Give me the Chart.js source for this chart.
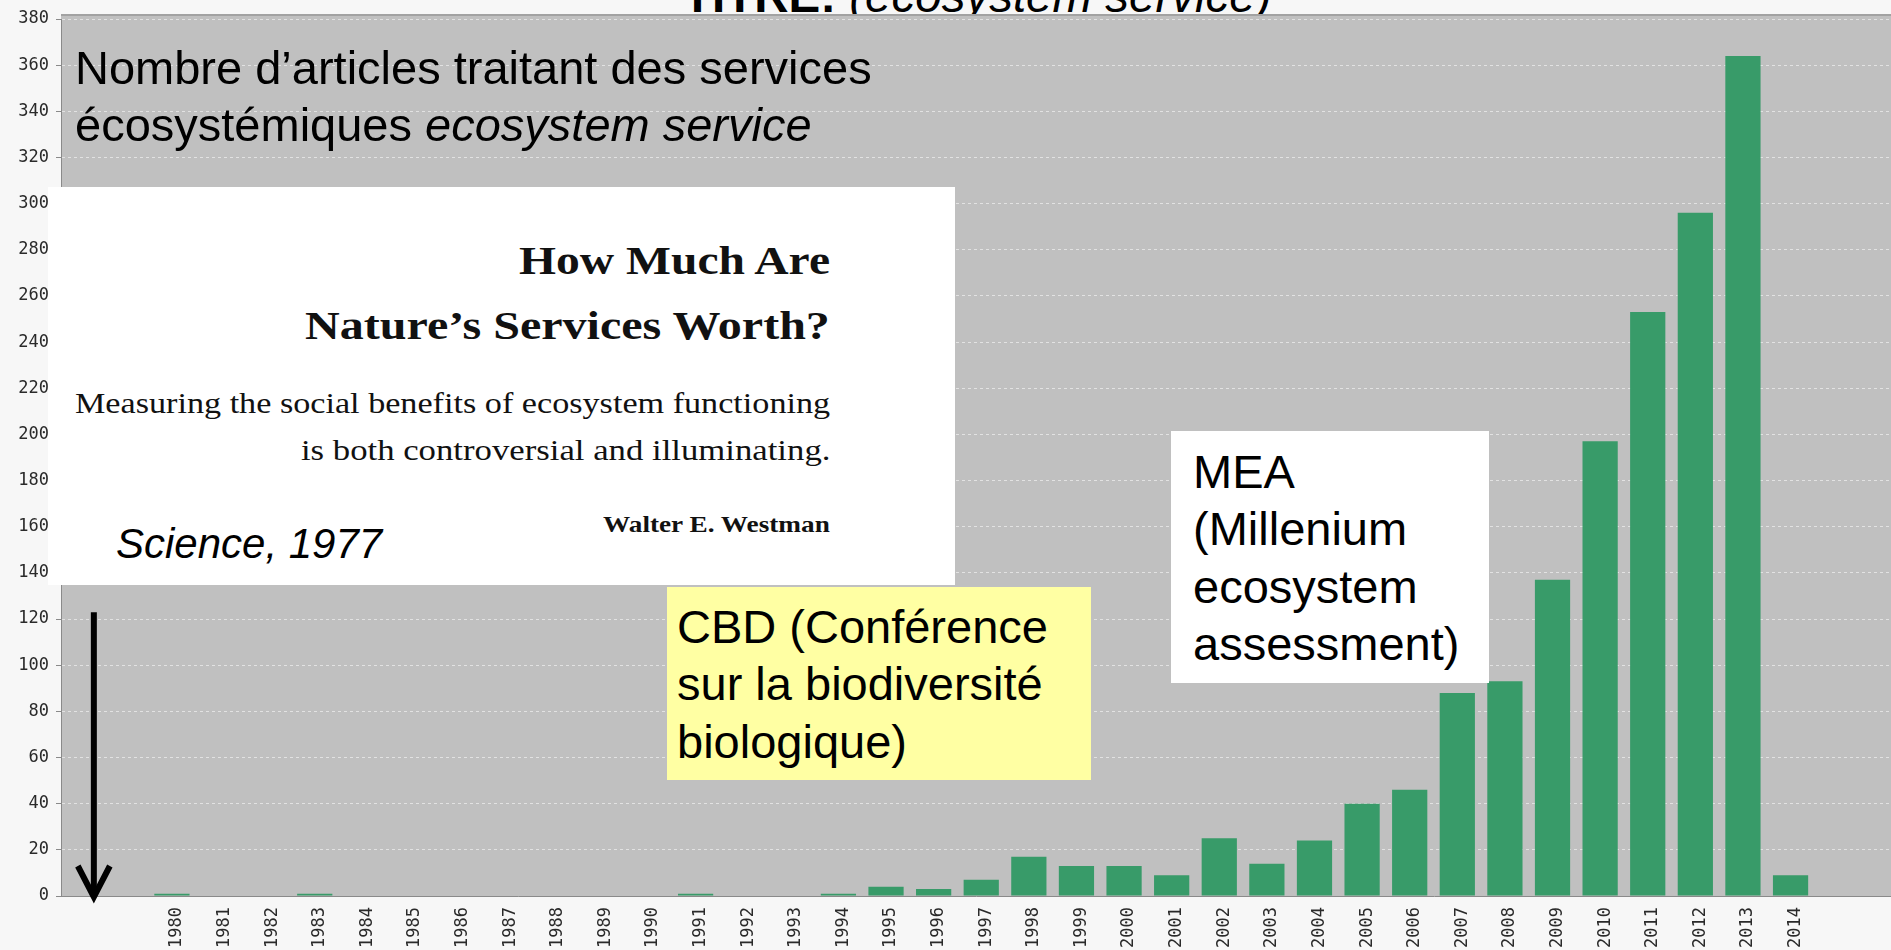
<!DOCTYPE html>
<html lang="fr">
<head>
<meta charset="UTF-8">
<title>TITRE: (ecosystem service)</title>
<script src="https://cdn.jsdelivr.net/npm/chart.js@4.4.1/dist/chart.umd.min.js"></script>
<style>
    html, body { margin: 0; padding: 0; }
    body {
        width: 1891px; height: 950px; overflow: hidden; position: relative;
        background: #f7f7f7;
        font-family: "Liberation Sans", Arial, sans-serif;
    }
    #chart { position: absolute; left: 0; top: 0; z-index: 1; }
    .title {
        position: absolute; z-index: 0; left: 683px; top: -28px;
        font-size: 47.5px; line-height: 1; white-space: nowrap;
    }
    .note {
        position: absolute; z-index: 2; color: #000;
        font-size: 47px; line-height: 57.3px; white-space: nowrap;
    }
    #caption { left: 75px; top: 39px; }
    #cbd { left: 667px; top: 587px; width: 414px; height: 182px; padding: 11px 0 0 10px; background: #ffffa3; }
    #mea { left: 1171px; top: 431px; width: 296px; height: 240px; padding: 12px 0 0 22px; background: #fff; }
    #article { position: absolute; z-index: 2; left: 48px; top: 187px; width: 907px; height: 398px; background: #fff; }
    #article .l {
        position: absolute; right: 125px; white-space: nowrap; line-height: 1;
        font-family: "Liberation Serif", "Times New Roman", serif; color: #111;
        transform-origin: right center;
    }
    #science {
        position: absolute; left: 68px; top: 336px; font-size: 42px; line-height: 1;
        font-style: italic; white-space: nowrap;
    }
</style>
</head>
<body>

<div class="title"><b>TITRE:</b> <i>(ecosystem service)</i></div>

<canvas id="chart" width="1891" height="950"></canvas>

<div class="note" id="caption">Nombre d’articles traitant des services<br>écosystémiques <i>ecosystem service</i></div>

<div id="article">
    <div class="l" style="top:53px; font-size:41px; font-weight:bold;" data-w="311">How Much Are</div>
    <div class="l" style="top:118px; font-size:41px; font-weight:bold;" data-w="525">Nature’s Services Worth?</div>
    <div class="l" style="top:201px; font-size:30px;" data-w="755">Measuring the social benefits of ecosystem functioning</div>
    <div class="l" style="top:248px; font-size:30px;" data-w="529">is both controversial and illuminating.</div>
    <div class="l" style="top:325px; font-size:24px; font-weight:bold;" data-w="227">Walter E. Westman</div>
    <div id="science">Science, 1977</div>
</div>

<div class="note" id="cbd">CBD (Conférence<br>sur la biodiversité<br>biologique)</div>

<div class="note" id="mea">MEA<br>(Millenium<br>ecosystem<br>assessment)</div>

<script>
// number of articles per year
const years = [1980, 1981, 1982, 1983, 1984, 1985, 1986, 1987, 1988, 1989,
               1990, 1991, 1992, 1993, 1994, 1995, 1996, 1997, 1998, 1999,
               2000, 2001, 2002, 2003, 2004, 2005, 2006, 2007, 2008, 2009,
               2010, 2011, 2012, 2013, 2014];
const counts = [1, 0, 0, 1, 0, 0, 0, 0, 0, 0,
                0, 1, 0, 0, 1, 4, 3, 7, 17, 13,
                13, 9, 25, 14, 24, 40, 46, 88, 93, 137,
                197, 253, 296, 364, 9];
const yTicks = [0, 20, 40, 60, 80, 100, 120, 140, 160, 180, 200,
                220, 240, 260, 280, 300, 320, 340, 360, 380];

// axis extent (years) and the arrow pointing at 1977
const xMin = 1977.67;
const xMax = 2016.11;
const arrowX = 1978.36;
const arrowTop = 123;

const tickFont = { family: "'DejaVu Sans Mono', monospace", size: 17 };

// gray plot background with a top border
const plotBackground = {
    id: 'plotBackground',
    beforeDraw(chart) {
        const { ctx, chartArea: a } = chart;
        ctx.save();
        ctx.fillStyle = '#c0c0c0';
        ctx.fillRect(a.left, a.top - 4, a.right - a.left, a.bottom - a.top + 4);
        ctx.strokeStyle = '#a2a2a2';
        ctx.lineWidth = 2;
        ctx.beginPath();
        ctx.moveTo(a.left, a.top - 4);
        ctx.lineTo(a.right, a.top - 4);
        ctx.stroke();
        ctx.restore();
    }
};

// black arrow down to the axis
const arrowPlugin = {
    id: 'arrow',
    afterDraw(chart) {
        const { ctx } = chart;
        const x = chart.scales.x.getPixelForValue(arrowX);
        const y0 = chart.scales.y.getPixelForValue(arrowTop);
        const y1 = chart.scales.y.getPixelForValue(0) + 1;
        ctx.save();
        ctx.strokeStyle = '#000';
        ctx.lineWidth = 6;
        ctx.beginPath();
        ctx.moveTo(x, y0);
        ctx.lineTo(x, y1 - 4);
        ctx.stroke();
        ctx.beginPath();
        ctx.moveTo(x - 16, y1 - 31);
        ctx.lineTo(x, y1);
        ctx.lineTo(x + 16, y1 - 31);
        ctx.stroke();
        ctx.restore();
    }
};

new Chart(document.getElementById('chart'), {
    type: 'bar',
    data: {
        datasets: [{
            data: years.map((yr, i) => ({ x: yr, y: counts[i] })),
            backgroundColor: '#389b69',
            borderWidth: 0,
            categoryPercentage: 1,
            barPercentage: 0.74
        }]
    },
    options: {
        responsive: false,
        animation: false,
        devicePixelRatio: 1,
        layout: { padding: { top: 19, left: 0, right: 0, bottom: 0 } },
        plugins: {
            legend: { display: false },
            tooltip: { enabled: false }
        },
        scales: {
            x: {
                type: 'linear',
                min: xMin,
                max: xMax,
                offset: false,
                afterBuildTicks(s) { s.ticks = years.map(v => ({ value: v })); },
                afterFit(s) { s.height = 54; },
                grid: { display: false, offset: false },
                border: { display: true, color: '#8a8a8a', width: 1 },
                ticks: {
                    autoSkip: false,
                    minRotation: 90,
                    maxRotation: 90,
                    padding: 3,
                    labelOffset: 5,
                    font: tickFont,
                    color: '#2a2a2a',
                    callback: v => String(v)
                }
            },
            y: {
                min: 0,
                max: 380,
                afterBuildTicks(s) { s.ticks = yTicks.map(v => ({ value: v })); },
                afterFit(s) { s.width = 61; },
                grid: { color: '#e2e2e2', lineWidth: 1, tickLength: 5, tickColor: '#8a8a8a' },
                border: { display: true, color: '#8a8a8a', width: 1, dash: [3, 3] },
                ticks: {
                    padding: 7,
                    font: tickFont,
                    color: '#2a2a2a',
                    callback: v => String(v)
                }
            }
        }
    },
    plugins: [plotBackground, arrowPlugin]
});

// stretch the scanned article lines to their measured widths
function fitLines() {
    document.querySelectorAll('#article .l').forEach(el => {
        el.style.transform = 'none';
        const w = +el.dataset.w;
        el.style.transform = `scaleX(${w / el.offsetWidth})`;
    });
}
fitLines();
if (document.fonts) document.fonts.ready.then(fitLines);
</script>

</body>
</html>
